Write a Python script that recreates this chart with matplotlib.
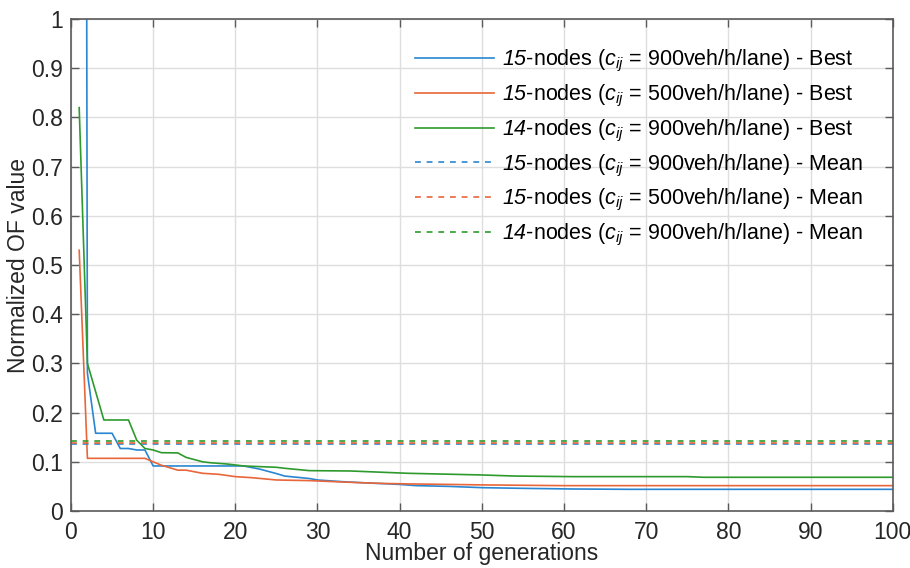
import matplotlib
matplotlib.use('Agg')
import matplotlib.pyplot as plt
from matplotlib.ticker import FormatStrFormatter

plt.rcParams['font.family'] = ['Liberation Sans', 'DejaVu Sans']
plt.rcParams['mathtext.fontset'] = 'custom'
plt.rcParams['mathtext.rm'] = 'Liberation Sans'
plt.rcParams['mathtext.it'] = 'Liberation Sans:italic'
plt.rcParams['mathtext.sf'] = 'Liberation Sans:italic'   # used for the italic node count
plt.rcParams['font.size'] = 15

# best value per generation
gen_blue = [1, 2, 3, 5, 6, 7, 8, 9, 10, 21, 23, 25, 26, 29, 30, 33, 36, 40, 42, 46, 50, 55, 61, 68, 100]
best_blue = [9.0, 0.28, 0.158, 0.158, 0.127, 0.127, 0.124, 0.124, 0.0915, 0.0915, 0.085, 0.076, 0.071,
             0.066, 0.063, 0.0596, 0.057, 0.054, 0.0515, 0.050, 0.0474, 0.046, 0.0447, 0.044, 0.044]

gen_orange = [1, 2, 9, 10, 11, 13, 14, 16, 18, 20, 22, 25, 29, 32, 35, 38, 41, 46, 50, 60, 100]
best_orange = [0.53, 0.107, 0.107, 0.100, 0.093, 0.083, 0.083, 0.0766, 0.0745, 0.0698, 0.0677, 0.063,
               0.0617, 0.0596, 0.0576, 0.056, 0.055, 0.054, 0.053, 0.0515, 0.0515]

gen_green = [1, 2, 4, 7, 8, 9, 10, 11, 13, 14, 16, 17, 19, 21, 25, 26, 29, 34, 41, 50, 54, 61, 75, 77, 100]
best_green = [0.82, 0.300, 0.185, 0.185, 0.144, 0.127, 0.124, 0.1185, 0.118, 0.109, 0.100, 0.098, 0.0955,
              0.0915, 0.0888, 0.0868, 0.082, 0.0813, 0.0766, 0.0732, 0.071, 0.0698, 0.0698, 0.0685, 0.0685]

# mean values (horizontal)
gen_mean = [0, 100]
mean_blue = 0.1355
mean_orange = 0.138
mean_green = 0.1417

labels = [
    r'$\mathsf{15}$-nodes ($c_{ij}$ = 900veh/h/lane) - Best',
    r'$\mathsf{15}$-nodes ($c_{ij}$ = 500veh/h/lane) - Best',
    r'$\mathsf{14}$-nodes ($c_{ij}$ = 900veh/h/lane) - Best',
    r'$\mathsf{15}$-nodes ($c_{ij}$ = 900veh/h/lane) - Mean',
    r'$\mathsf{15}$-nodes ($c_{ij}$ = 500veh/h/lane) - Mean',
    r'$\mathsf{14}$-nodes ($c_{ij}$ = 900veh/h/lane) - Mean',
]

c_blue = '#2a86d1'
c_orange = '#e8663a'
c_green = '#2e9a2e'

fig = plt.figure(figsize=(9.1, 5.68), dpi=100)
ax = fig.add_axes([0.078, 0.1004, 0.903, 0.866])

lw = 1.2
ax.plot(gen_blue, best_blue, color=c_blue, lw=lw, label=labels[0])
ax.plot(gen_orange, best_orange, color=c_orange, lw=lw, label=labels[1])
ax.plot(gen_green, best_green, color=c_green, lw=lw, label=labels[2])
ax.plot(gen_mean, [mean_blue] * 2, '--', color=c_blue, lw=lw, dashes=(3.5, 3.5), label=labels[3])
ax.plot(gen_mean, [mean_orange] * 2, '--', color=c_orange, lw=lw, dashes=(3.5, 3.5), label=labels[4])
ax.plot(gen_mean, [mean_green] * 2, '--', color=c_green, lw=lw, dashes=(3.5, 3.5), label=labels[5])

ax.set_xlim(0, 100)
ax.set_ylim(0, 1)
ax.set_xticks(range(0, 101, 10))
ax.set_yticks([i / 10 for i in range(11)])
ax.yaxis.set_major_formatter(FormatStrFormatter('%g'))
ax.grid(True, color='#dedede', lw=1.0)
ax.set_axisbelow(True)
for s in ax.spines.values():
    s.set_color('#5a5a5a')
    s.set_linewidth(1.2)
ax.tick_params(direction='in', length=6, width=1.0, color='#5a5a5a', labelcolor='#262626',
               top=True, right=True, labelsize=16.5)
ax.tick_params(axis='x', pad=7)
ax.tick_params(axis='y', pad=6)

ax.set_xlabel('Number of generations', fontsize=16.5, color='#262626')
ax.set_ylabel('Normalized OF value', fontsize=16.5, color='#262626')
ax.xaxis.set_label_coords(0.5, -0.064)
ax.yaxis.set_label_coords(-0.05, 0.5)

ax.legend(loc='upper left', bbox_to_anchor=(0.456, 0.915), bbox_transform=fig.transFigure,
          frameon=False, borderaxespad=0, borderpad=0, handlelength=3.67, handletextpad=0.37,
          labelspacing=0.40, fontsize=15.5)

fig.savefig('out.png', dpi=100)
